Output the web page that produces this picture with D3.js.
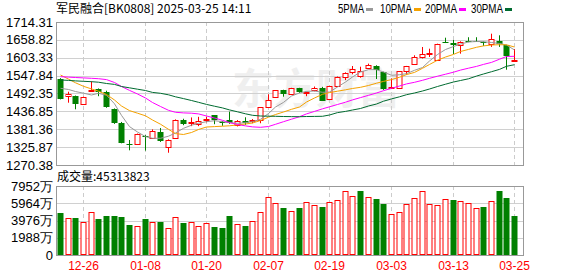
<!DOCTYPE html>
<html>
<head>
<meta charset="utf-8">
<script src="https://cdn.jsdelivr.net/npm/d3@7/dist/d3.min.js"></script>
<style>
  body { margin: 0; background: #fff; }
  svg { display: block; }
</style>
</head>
<body>
<svg id="chart" width="578" height="276"></svg>
<script>
// trading days shown (MM-DD)
const dates = ["12-23","12-24","12-25","12-26","12-27","12-30","12-31","01-02","01-03","01-06",
  "01-07","01-08","01-09","01-10","01-13","01-14","01-15","01-16","01-17","01-20",
  "01-21","01-22","01-23","01-24","01-27","02-05","02-06","02-07","02-10","02-11",
  "02-12","02-13","02-14","02-17","02-18","02-19","02-20","02-21","02-24","02-25",
  "02-26","02-27","02-28","03-03","03-04","03-05","03-06","03-07","03-10","03-11",
  "03-12","03-13","03-14","03-17","03-18","03-19","03-20","03-21","03-24","03-25"];

const opens = [1537.4,1484.6,1484.6,1458.8,1500,1505,1498,1444.2,1399.8,1335.5,
  1335.5,1360,1354,1372.8,1327.2,1353.3,1410,1403,1398,1410,
  1424.7,1403,1411,1395.5,1407,1406,1410,1451.5,1480.5,1503.2,
  1490,1508.5,1493,1503,1508.5,1476.2,1516.5,1545,1560,1547.6,
  1570.6,1578.6,1558.2,1510,1509.4,1561,1584.9,1604.7,1617,1597.3,
  1652.2,1649,1642,1654,1654.5,1653,1647,1654,1643,1595];
const highs = [1540,1497.9,1486,1483,1530,1508,1501,1446,1404,1348,
  1368,1363,1381,1385.2,1350,1412,1414,1418,1420,1420,
  1425,1407,1436,1410,1418.5,1413,1450,1489.9,1503,1504,
  1510,1510,1498,1514,1513,1516,1545,1558,1577.7,1575.5,
  1585,1580,1560,1539,1562,1578,1611,1636.7,1631.5,1647,
  1665.6,1658.5,1654.4,1667,1667,1654,1678,1673,1643.5,1630.5];
const lows = [1474,1463.8,1443.3,1457,1497,1484,1448,1398,1337.7,1316,
  1334,1315,1353,1342,1308.5,1352,1394,1391,1391,1403,
  1397,1392,1398,1390,1395,1400,1400,1450,1479,1482.4,
  1489,1494,1484,1499,1469,1474,1515,1534,1552,1541.4,
  1568,1537.4,1503.5,1509,1508,1550.7,1582,1601,1605.6,1596,
  1649,1615,1616,1651.5,1652.5,1640,1637,1637,1566.2,1594];
const closes = [1476.2,1489.9,1459.8,1482.4,1504,1498,1449.5,1399.8,1339.6,1332.5,
  1366.6,1356,1375,1343.8,1348,1410,1398,1405,1406.5,1413.5,
  1411,1401,1399.5,1408,1400.5,1411,1449.5,1472.4,1502.3,1490.8,
  1508.5,1496,1497,1509,1470,1514.7,1542.7,1556,1568.4,1562,
  1580.8,1565.3,1506.3,1512.6,1561,1576.8,1605.6,1614,1619,1646,
  1650,1642,1651,1652,1653,1649,1660.5,1646.5,1608,1596.3];

// volume in 万
const volumes = [4840,4230,4264,3768,4921,4114,4495,4495,4379,3457,
  3307,4149,3768,3803,3077,4345,3688,3768,3307,3653,
  3227,3112,4495,3538,3342,3884,4921,6650,5958,5417,
  5036,5417,6074,5762,5532,6074,6304,7341,6765,7376,
  6650,6454,5878,4691,4921,5878,6534,7341,5878,5728,
  6419,6339,6189,5958,5382,5532,6189,7376,6569,4531];

const ma5 = [1508.5,1504.8,1498.5,1493.3,1487.7,1493.0,1487.1,1460.4,1424.4,1389.6,
  1372.8,1358.5,1353.3,1353.3,1359.8,1369.7,1384.3,1393.9,1399.8,1404.8,
  1407.9,1404.8,1401.7,1399.8,1401.7,1404.8,1412.2,1430.2,1450.4,1464.7,
  1484.6,1493.9,1498.9,1500.1,1496.1,1497.0,1512.5,1528.0,1543.6,1559.1,
  1566.2,1566.2,1559.1,1548.8,1550.7,1553.8,1564.4,1573.0,1593.2,1613.4,
  1628.9,1638.2,1646.0,1652.2,1653.8,1653.1,1650.7,1647.6,1642.9,1627.4];
const ma10 = [1549.8,1537.0,1525.6,1514.7,1506.6,1499.5,1489.2,1472.2,1453.5,1439.2,
  1431.2,1423.1,1410.1,1397.0,1381.2,1367.8,1365.1,1371.3,1380.6,1388.3,
  1389.6,1390.8,1392.1,1394.9,1397.7,1400.8,1408.5,1418.8,1427.1,1434.9,
  1443.3,1450.4,1465.9,1478.4,1489.9,1495.1,1499.5,1503.8,1507.9,1511.6,
  1517.2,1524.3,1529.9,1535.5,1542.9,1551.0,1557.8,1570.6,1582.4,1595.7,
  1605.6,1613.7,1622.7,1629.2,1635.8,1640.1,1642.9,1643.8,1643.5,1636.7];
const ma20 = [1544.5,1543.2,1542.0,1540.8,1539.5,1538.3,1535.5,1526.5,1514.1,1502.0,
  1490.8,1478.4,1464.4,1452.0,1440.2,1434.0,1432.1,1431.2,1429.0,1422.5,
  1416.3,1409.1,1402.0,1396.1,1391.8,1388.7,1387.4,1389.9,1396.7,1404.8,
  1412.6,1420.3,1429.0,1436.8,1444.8,1451.0,1458.2,1465.3,1472.5,1479.6,
  1486.7,1493.9,1501.0,1508.5,1515.6,1522.1,1527.1,1533.3,1539.5,1546.0,
  1552.2,1558.5,1565.0,1570.9,1576.5,1582.7,1588.9,1598.8,1607.2,1607.8];
const ma30 = [1534.3,1533.0,1531.5,1530.2,1529.0,1527.4,1523.4,1520.6,1514.1,1510.0,
  1505.7,1501.6,1495.7,1493.0,1488.3,1482.1,1476.5,1470.6,1465.0,1458.5,
  1452.9,1447.6,1441.4,1435.5,1429.3,1424.7,1422.5,1421.9,1421.6,1420.9,
  1420.6,1420.3,1420.9,1421.2,1421.6,1425.6,1433.0,1436.8,1441.1,1445.8,
  1453.5,1459.7,1468.4,1475.6,1482.1,1488.6,1493.9,1500.1,1506.3,1514.1,
  1521.2,1528.0,1532.7,1538.0,1546.4,1552.9,1560.0,1567.2,1576.8,1581.7];

const priceTicks = [1714.31,1658.82,1603.33,1547.84,1492.35,1436.85,1381.36,1325.87,1270.38];
const volTicks = [0,1988,3976,5964,7952];
const dateTicks = ["12-26","01-08","01-20","02-07","02-19","03-03","03-13","03-25"];
const maNames = ["5PMA","10PMA","20PMA","30PMA"];
const maColors = ["#999999","#f5a200","#ff00ff","#006b30"];
const maSeries = [ma5, ma10, ma20, ma30];

const UP = "#ff0000", DOWN = "#008000";
const labelFont = "'Liberation Sans', Arial, sans-serif";
const cjkFont = "'Noto Sans CJK SC', 'Liberation Sans', sans-serif";

const L = 56, R = 523;
const pTop = 22, pBot = 165;
const vTop = 186, vBot = 255;

const svg = d3.select("#chart");

const x = d3.scaleBand().domain(dates).range([56.5, 518.5]);
const cx = d => Math.floor(x(d) + x.bandwidth() / 2) + 0.5;
const yP = d3.scaleLinear().domain([1270.38, 1714.31]).range([pBot, pTop]);
const yV = d3.scaleLinear().domain([0, 7952]).range([vBot, vTop]);

// faint watermark
svg.append("text")
  .attr("x", 232).attr("y", 104)
  .attr("font-family", cjkFont).attr("font-size", 42).attr("font-weight", "bold")
  .attr("fill", "#efefef")
  .text("东方财富");

// title
svg.append("text")
  .attr("x", 56).attr("y", 13)
  .attr("font-family", cjkFont).attr("font-size", 12).attr("fill", "#000")
  .text("军民融合[BK0808] 2025-03-25 14:11");

// legend: text then short colour dash
const legX = [338, 380, 425, 471];
const legW = [26, 32, 32, 32];
maNames.forEach((n, i) => {
  svg.append("text")
    .attr("x", legX[i]).attr("y", 13)
    .attr("font-family", labelFont).attr("font-size", 12).attr("fill", "#000")
    .attr("textLength", legW[i]).attr("lengthAdjust", "spacingAndGlyphs")
    .text(n);
  svg.append("line")
    .attr("x1", legX[i] + legW[i] + 2).attr("x2", legX[i] + legW[i] + 9)
    .attr("y1", 9.5).attr("y2", 9.5)
    .attr("stroke", maColors[i]).attr("stroke-width", 3);
});

// panels: grids + y labels
function panel(y0, y1, ticks, yScale, fmt) {
  const g = svg.append("g");
  g.selectAll("line.h").data(ticks).join("line")
    .attr("x1", L).attr("x2", R)
    .attr("y1", d => Math.round(yScale(d)) + 0.5)
    .attr("y2", d => Math.round(yScale(d)) + 0.5)
    .attr("stroke", "#d0d0d0");
  g.selectAll("line.v").data(dateTicks).join("line")
    .attr("x1", d => cx(d)).attr("x2", d => cx(d))
    .attr("y1", y0).attr("y2", y1)
    .attr("stroke", "#cccccc").attr("stroke-dasharray", "4,3");
  g.selectAll("text").data(ticks).join("text")
    .attr("x", 53).attr("y", d => yScale(d) + 4.5)
    .attr("text-anchor", "end")
    .attr("font-family", labelFont).attr("font-size", 13).attr("fill", "#000")
    .text(fmt);
  return g;
}
panel(pTop, pBot, priceTicks, yP, d => d.toFixed(2));
panel(vTop, vBot, volTicks, yV, d => d === 0 ? "0" : d + "万");

// candles
const bw = 5;
const candles = svg.append("g");
dates.forEach((d, i) => {
  const o = opens[i], c = closes[i];
  const up = c >= o;
  const col = up ? UP : DOWN;
  const xc = cx(d);
  const top = Math.round(yP(Math.max(o, c))), bot = Math.round(yP(Math.min(o, c)));
  candles.append("line")
    .attr("x1", xc).attr("x2", xc)
    .attr("y1", yP(highs[i])).attr("y2", yP(lows[i]))
    .attr("stroke", col);
  if (up) {
    candles.append("rect")
      .attr("x", xc - 2.5).attr("y", top + 0.5)
      .attr("width", bw).attr("height", Math.max(bot - top, 1))
      .attr("fill", "#fff").attr("stroke", col);
  } else {
    candles.append("rect")
      .attr("x", xc - 3).attr("y", top)
      .attr("width", bw + 1).attr("height", Math.max(bot - top, 1))
      .attr("fill", col);
  }
});

// moving averages
const line = d3.line().x((v, i) => cx(dates[i])).y(v => yP(v));
maSeries.forEach((s, k) => {
  svg.append("path").datum(s)
    .attr("d", line)
    .attr("fill", "none").attr("stroke", maColors[k]).attr("stroke-width", 1);
});

// volume bars (colour by change vs previous close)
const vols = svg.append("g");
dates.forEach((d, i) => {
  const up = i === 0 ? closes[i] >= opens[i] : closes[i] >= closes[i - 1];
  const xc = cx(d);
  const top = Math.round(yV(volumes[i]));
  if (up) {
    vols.append("rect")
      .attr("x", xc - 2.5).attr("y", top + 0.5)
      .attr("width", bw).attr("height", vBot - top - 1)
      .attr("fill", "#fff").attr("stroke", UP);
  } else {
    vols.append("rect")
      .attr("x", xc - 3).attr("y", top)
      .attr("width", bw + 1).attr("height", vBot - top)
      .attr("fill", DOWN);
  }
});

// frames
[[pTop, pBot], [vTop, vBot]].forEach(([a, b]) => {
  svg.append("rect")
    .attr("x", L + 0.5).attr("y", a + 0.5)
    .attr("width", R - L).attr("height", b - a)
    .attr("fill", "none").attr("stroke", "#999");
});

// volume caption
svg.append("text")
  .attr("x", 57).attr("y", 181)
  .attr("font-family", cjkFont).attr("font-size", 12).attr("fill", "#000")
  .text("成交量:45313823");

// date labels
svg.append("g").selectAll("text").data(dateTicks).join("text")
  .attr("x", d => cx(d)).attr("y", 270)
  .attr("text-anchor", "middle")
  .attr("font-family", labelFont).attr("font-size", 12).attr("fill", "#ff0000")
  .text(d => d);
</script>
</body>
</html>
